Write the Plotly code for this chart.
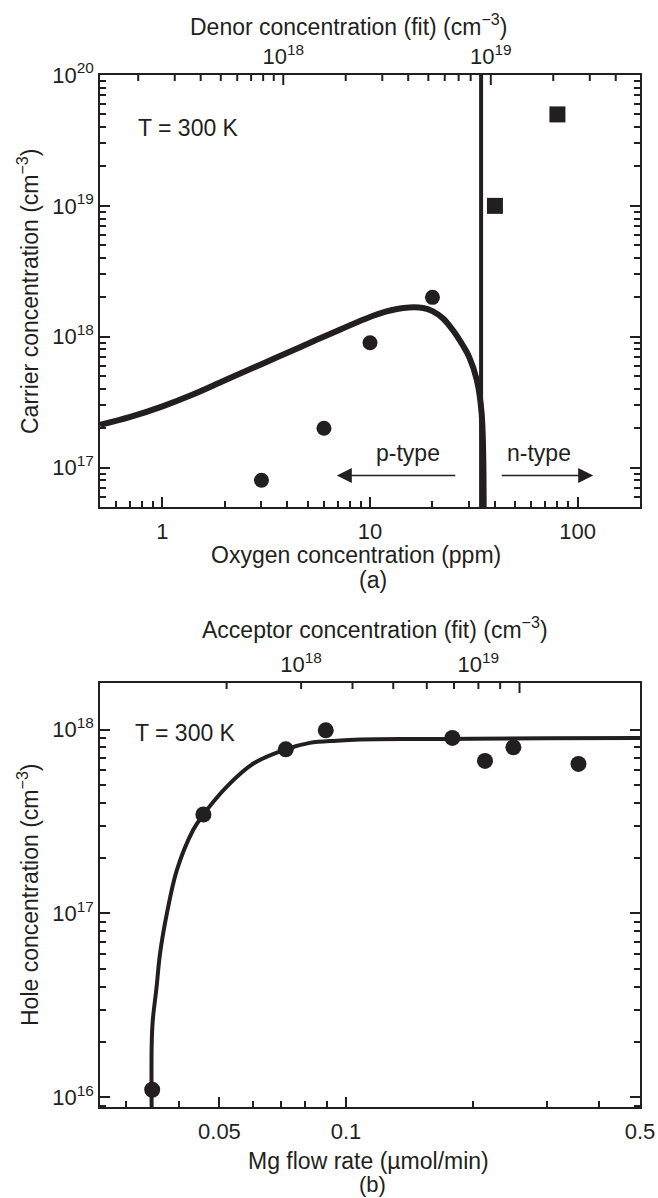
import math
import plotly.graph_objects as go

# ---------------- data: panel (a) ----------------
oxygen_fit_ppm = [0.5, 0.7, 1, 1.4, 2, 3, 4.6, 6.5, 9.6, 12, 14.5, 18, 20, 22.5, 25, 28, 30, 32.7, 34.5, 35.3]
carrier_fit = [2.12e17, 2.44e17, 2.94e17, 3.62e17, 4.65e17, 6.17e17, 8.32e17, 1.06e18, 1.38e18,
               1.56e18, 1.66e18, 1.66e18, 1.57e18, 1.38e18, 1.13e18, 8.6e17, 7.05e17,
               4.68e17, 2.61e17, 4.5e16]
oxygen_p_ppm = [3, 6, 10, 20]
carrier_p = [8e16, 2e17, 9e17, 2e18]
oxygen_n_ppm = [40, 80]
carrier_n = [1e19, 5e19]
boundary_ppm = 34.3
oxygen_range = [0.5, 200]
carrier_range = [5e16, 1e20]
donor_range = [1.309e17, 5.236e19]
oxygen_ticks = [1, 10, 100]
oxygen_ticktext = ["1", "10", "100"]
carrier_ticks = [1e17, 1e18, 1e19, 1e20]
carrier_ticktext = ["10<sup>17</sup>", "10<sup>18</sup>", "10<sup>19</sup>", "10<sup>20</sup>"]
donor_ticks = [1e18, 1e19]
donor_ticktext = ["10<sup>18</sup>", "10<sup>19</sup>"]

# ---------------- data: panel (b) ----------------
mg_fit = [0.0345, 0.0345, 0.0347, 0.03545, 0.0361, 0.0375, 0.0396, 0.0433, 0.0458, 0.052,
          0.0602, 0.0719, 0.082, 0.095, 0.108, 0.15, 0.2, 0.3, 0.5]
hole_fit = [8.5e15, 1.9e16, 2.6e16, 4.0e16, 6.0e16, 1.0e17, 1.72e17, 2.84e17, 3.45e17, 4.88e17,
            6.53e17, 7.8e17, 8.46e17, 8.7e17, 8.83e17, 8.88e17, 8.9e17, 8.95e17, 9.0e17]
mg_data = [0.0346, 0.0458, 0.0719, 0.0895, 0.179, 0.214, 0.25, 0.357]
hole_data = [1.1e16, 3.45e17, 7.8e17, 9.9e17, 9.0e17, 6.75e17, 8.0e17, 6.5e17]
mg_range = [0.026, 0.5]
hole_range = [8.86e15, 1.79e18]
mg_ticks = [0.05, 0.1, 0.5]
mg_ticktext = ["0.05", "0.1", "0.5"]
hole_ticks = [1e16, 1e17, 1e18]
hole_ticktext = ["10<sup>16</sup>", "10<sup>17</sup>", "10<sup>18</sup>"]
acceptor_tick_flow = [0.052, 0.0782, 0.1036, 0.1295, 0.1556, 0.1806, 0.2064, 0.2325, 0.2585]
acceptor_label_flow = [0.0782, 0.2064]
acceptor_ticktext = ["10<sup>18</sup>", "10<sup>19</sup>"]

# ---------------- styling ----------------
W, H = 658, 1198
INK = "#231f20"
FONT = "Liberation Sans, Arial, sans-serif"
LW = 1.5
lg = math.log10


def px(x):
    return x / W


def py(y):
    return 1 - y / H


def minor_vals(lo, hi):
    out = []
    for e in range(int(math.floor(math.log10(lo))) - 1, int(math.ceil(math.log10(hi))) + 1):
        for k in range(2, 10):
            v = float(k) * (10.0 ** e)
            if lo <= v <= hi:
                out.append(v)
    return out


def log_axis(rng, tickvals, ticktext, minor, ticks="inside", **kw):
    d = dict(
        type="log", range=[lg(rng[0]), lg(rng[1])],
        showline=True, linecolor=INK, linewidth=LW,
        ticks=ticks, ticklen=10, tickwidth=2, tickcolor=INK,
        tickmode="array", tickvals=[float(v) for v in tickvals], ticktext=ticktext,
        tickfont=dict(family=FONT, size=22, color=INK),
        showgrid=False, zeroline=False, automargin=False, layer="above traces",
        minor=dict(ticks=ticks, ticklen=6, tickwidth=2, tickcolor=INK,
                   tickmode="array", tickvals=minor, showgrid=False),
    )
    d.update(kw)
    return d


fig = go.Figure()

# panel (a)
fig.add_trace(go.Scatter(x=oxygen_fit_ppm, y=carrier_fit, mode="lines",
                         line=dict(color=INK, width=6, shape="spline", smoothing=1.0),
                         xaxis="x", yaxis="y", showlegend=False, hoverinfo="skip"))
fig.add_trace(go.Scatter(x=[boundary_ppm, boundary_ppm], y=carrier_range, mode="lines",
                         line=dict(color=INK, width=4),
                         xaxis="x", yaxis="y", showlegend=False, hoverinfo="skip"))
fig.add_trace(go.Scatter(x=oxygen_p_ppm, y=carrier_p, mode="markers",
                         marker=dict(symbol="circle", size=15, color=INK),
                         xaxis="x", yaxis="y", showlegend=False))
fig.add_trace(go.Scatter(x=oxygen_n_ppm, y=carrier_n, mode="markers",
                         marker=dict(symbol="square", size=16, color=INK),
                         xaxis="x", yaxis="y", showlegend=False))
# empty traces so that the top (fit-concentration) axes are drawn
fig.add_trace(go.Scatter(x=[], y=[], xaxis="x2", yaxis="y", showlegend=False, hoverinfo="skip"))

# panel (b)
fig.add_trace(go.Scatter(x=mg_fit, y=hole_fit, mode="lines",
                         line=dict(color=INK, width=4, shape="spline", smoothing=1.0),
                         xaxis="x3", yaxis="y2", showlegend=False, hoverinfo="skip"))
fig.add_trace(go.Scatter(x=mg_data, y=hole_data, mode="markers",
                         marker=dict(symbol="circle", size=16, color=INK),
                         xaxis="x3", yaxis="y2", showlegend=False))
fig.add_trace(go.Scatter(x=[], y=[], xaxis="x4", yaxis="y2", showlegend=False, hoverinfo="skip"))

xdom = [px(100), px(640)]
fig.update_layout(
    width=W, height=H, margin=dict(l=0, r=0, t=0, b=0),
    paper_bgcolor="white", plot_bgcolor="rgba(0,0,0,0)",
    font=dict(family=FONT, color=INK, size=22),
    xaxis=log_axis(oxygen_range, oxygen_ticks, oxygen_ticktext,
                   minor_vals(*oxygen_range), domain=xdom, anchor="y", ticklabelstandoff=4),
    xaxis2=log_axis(donor_range, donor_ticks, donor_ticktext, [], ticks="",
                    domain=xdom, side="top", anchor="y", overlaying="x"),
    yaxis=log_axis(carrier_range, carrier_ticks, carrier_ticktext,
                   minor_vals(*carrier_range), domain=[py(507), py(75)], anchor="x",
                   mirror="ticks"),
    xaxis3=log_axis(mg_range, mg_ticks, mg_ticktext,
                    minor_vals(*mg_range), domain=xdom, anchor="y2", ticklabelstandoff=4),
    xaxis4=log_axis(mg_range, acceptor_label_flow, acceptor_ticktext, [], ticks="",
                    domain=xdom, side="top", anchor="y2", overlaying="x3"),
    yaxis2=log_axis(hole_range, hole_ticks, hole_ticktext,
                    minor_vals(*hole_range), domain=[py(1107), py(683)], anchor="x3",
                    mirror="ticks"),
)

# inward tick marks along the top (fit-concentration) axes
# (shape positions on log axes are given in data units)
shapes = []


def top_tick(xref, yref, value, length_px, panel_px):
    shapes.append(dict(type="line", xref=xref, yref=yref + " domain",
                       x0=value, x1=value, y0=1, y1=1 - length_px / panel_px,
                       line=dict(color=INK, width=2), layer="above"))


for v in donor_ticks:
    top_tick("x2", "y", v, 10, 432)
for v in minor_vals(*donor_range):
    if v < donor_range[1] / 1.05:
        top_tick("x2", "y", v, 6, 432)
for i, v in enumerate(acceptor_tick_flow):
    top_tick("x4", "y2", v, 10 if i == len(acceptor_tick_flow) - 1 else 6, 424)

ann = []


def text(x, y, s, size=23, angle=0, xanchor="center"):
    ann.append(dict(x=px(x), y=py(y), xref="paper", yref="paper", text=s,
                    showarrow=False, textangle=angle, xanchor=xanchor, yanchor="middle",
                    borderpad=0, font=dict(family=FONT, size=size, color=INK)))


# titles & captions
text(348, 25, "Denor concentration (fit) (cm<sup>−3</sup>)")
text(356, 555, "Oxygen concentration (ppm)")
text(373, 580, "(a)")
text(28, 291, "Carrier concentration (cm<sup>−3</sup>)", angle=-90)
text(137, 128, "T = 300 K", xanchor="left")
text(375, 628, "Acceptor concentration (fit) (cm<sup>−3</sup>)")
text(368, 1161, "Mg flow rate (µmol/min)")
text(373, 1184, "(b)", size=22)
text(28, 895, "Hole concentration (cm<sup>−3</sup>)", angle=-90)
text(134, 733, "T = 300 K", xanchor="left")

# p-type / n-type labels and arrows (data coords, log units)
for label, xc in (("p-type", 15.3), ("n-type", 65.5)):
    ann.append(dict(x=lg(xc), y=17.11, xref="x", yref="y", text=label, showarrow=False,
                    font=dict(family=FONT, size=23, color=INK)))
for head, tail in ((6.92, 26.2), (119, 42.4)):
    ann.append(dict(x=lg(head), y=lg(8.7e16), ax=lg(tail), ay=lg(8.7e16),
                    xref="x", yref="y", axref="x", ayref="y", text="", showarrow=True,
                    arrowhead=2, arrowsize=2, arrowwidth=1.5, arrowcolor=INK, standoff=0))

fig.update_layout(annotations=ann, shapes=shapes)

fig.write_html("out.html", config={"displayModeBar": False},
               post_script="document.body.style.margin='0';document.body.style.overflow='hidden';")
